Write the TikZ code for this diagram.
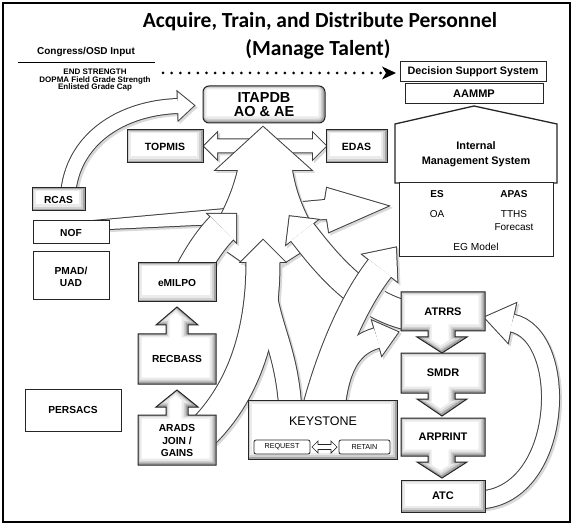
\documentclass[tikz,border=0pt]{standalone}
\usepackage{fontspec}
\setmainfont{Liberation Sans}
\newfontfamily\titlefont{Carlito}
\usetikzlibrary{calc,arrows.meta}
\newcommand\fsz[2]{\fontsize{#1}{#2}\selectfont}
\newcommand\mkhead[5]{%
  \coordinate (#1-t) at ($(#2)!-#4!(#3)$);
  \coordinate (#1-a) at ($(#2)!#5!90:(#1-t)$);
  \coordinate (#1-b) at ($(#2)!#5!-90:(#1-t)$);}
\newcommand\hp[1]{(#1-t) -- (#1-a) -- (#1-b) -- cycle}
\newcommand\bevbox[1]{%
  \fill[white] #1;
  \begin{scope}
    \clip #1;
    \draw[black!8, line width=10pt, shift={(-1.5,-1.5)}] #1;
    \draw[black!18, line width=6pt, shift={(-1.2,-1.2)}] #1;
    \draw[black!36, line width=3pt, shift={(-0.8,-0.8)}] #1;
  \end{scope}
  \draw[black!85, line width=1pt, line join=miter] #1;}
% shaft and polygon paths (pixel coordinates, y downwards)
\def\pRCAS{(68,195) .. controls (72,140) and (120,108) .. (178,106)}
\def\pARC{(480,500) .. controls (565,495) and (570,335) .. (512,323)}
\def\pNOF{(93,221) -- (325,200) -- (327,188) -- (388,206) -- (329,232) -- (327,219) -- (109,229) -- cycle}
\def\pDBL{(204,146) -- (217,133) -- (217,139.5) -- (313,139.5) -- (313,133) -- (326,146) -- (313,159) -- (313,152.5) -- (217,152.5) -- (217,159) -- cycle}
\def\pTrunk{(263,127) -- (311,170) -- (292,170) .. controls (296,195) and (305,215) .. (320,240) -- (279,266) -- (248,266) -- (208,238) .. controls (222,215) and (232,195) .. (238,170) -- (216,170) -- cycle}
\def\pSone{(190,275) .. controls (200,255) and (212,238) .. (222,228)}
\def\pStwo{(405,315) .. controls (355,302) and (320,255) .. (302,232)}
\def\pLegL{(203,432) .. controls (240,395) and (263,340) .. (263,262)}
\def\pLegR{(290,404) .. controls (285,340) and (263,320) .. (263,262)}
\def\pKone{(318,404) .. controls (333,350) and (355,300) .. (380,268)}
\def\pKtwo{(335,404) .. controls (340,365) and (352,345) .. (377,338)}
\tikzset{
  ol/.style={draw=black!75, line join=miter},
  shd/.style={draw=black!15, fill=black!15, line join=miter},
  sh/.style={transform canvas={xshift=2pt,yshift=-2pt}},
  plain/.style={draw=black!85, line width=1pt, fill=white},
  lb/.style={font=\bfseries\fsz{10.5}{12}, align=center, inner sep=0pt},
  lbs/.style={font=\bfseries\fsz{10.2}{12.5}, align=center, inner sep=0pt},
  lr/.style={font=\fsz{10}{12}, align=center, inner sep=0pt},
}
\begin{document}
\begin{tikzpicture}[x=1pt,y=-1pt]
\useasboundingbox (0,0) rectangle (581,529);
\fill[white] (0,0) rectangle (581,529);
\mkhead{hr}{178,106}{120,108}{16pt}{14pt}
\mkhead{ha}{512,323}{570,335}{28pt}{20pt}
\mkhead{ho}{222,228}{212,238}{20pt}{20pt}
\mkhead{ht}{302,232}{320,255}{20pt}{20pt}
\mkhead{hl}{263,262}{263,300}{22pt}{22pt}
\mkhead{ka}{380,268}{355,300}{26pt}{22pt}
\mkhead{kb}{377,338}{352,345}{22pt}{18pt}
% ---------- group 1: back arrows
\begin{scope}[sh]
  \draw[draw=black!15, line width=16pt] \pRCAS;
  \draw[draw=black!15, line width=19pt] \pARC;
  \filldraw[shd, line width=2pt] \hp{hr};
  \filldraw[shd, line width=2pt] \hp{ha};
  \filldraw[shd, line width=2pt] \pNOF;
  \filldraw[shd, line width=2pt] \pDBL;
\end{scope}
\draw[ol, line width=16pt] \pRCAS;
\draw[ol, line width=19pt] \pARC;
\draw[ol, line width=2pt] \hp{hr};
\draw[ol, line width=2pt] \hp{ha};
\draw[ol, line width=2pt] \pNOF;
\draw[ol, line width=2pt] \pDBL;
\draw[white, line width=14pt] \pRCAS;
\draw[white, line width=17pt] \pARC;
\fill[white] \hp{hr};
\fill[white] \hp{ha};
\fill[white] \pNOF;
\fill[white] \pDBL;
% ---------- group 2a: trunk
\filldraw[shd, line width=2pt, sh] \pTrunk;
\draw[ol, line width=2pt] \pTrunk;
\fill[white] \pTrunk;
% ---------- group 2b: side bands into trunk
\begin{scope}[sh]
  \draw[draw=black!15, line width=34pt] \pSone;
  \draw[draw=black!15, line width=30pt] \pStwo;
  \filldraw[shd, line width=2pt] \hp{ho};
  \filldraw[shd, line width=2pt] \hp{ht};
\end{scope}
\draw[ol, line width=34pt] \pSone;
\draw[ol, line width=30pt] \pStwo;
\draw[ol, line width=2pt] \hp{ho};
\draw[ol, line width=2pt] \hp{ht};
\draw[white, line width=32pt] \pSone;
\draw[white, line width=28pt] \pStwo;
\fill[white] \hp{ho};
\fill[white] \hp{ht};
% ---------- group 2c: legs
\begin{scope}[sh]
  \draw[draw=black!15, line width=35pt] \pLegL;
  \draw[draw=black!15, line width=24pt] \pLegR;
  \filldraw[shd, line width=2pt] \hp{hl};
\end{scope}
\draw[ol, line width=35pt] \pLegL;
\draw[ol, line width=24pt] \pLegR;
\draw[ol, line width=2pt] \hp{hl};
\draw[white, line width=33pt] \pLegL;
\draw[white, line width=22pt] \pLegR;
\fill[white] \hp{hl};
% ---------- group 3: keystone arrows
\begin{scope}[sh]
  \draw[draw=black!15, line width=30pt] \pKone;
  \draw[draw=black!15, line width=22pt] \pKtwo;
  \filldraw[shd, line width=2pt] \hp{ka};
  \filldraw[shd, line width=2pt] \hp{kb};
\end{scope}
\draw[ol, line width=30pt] \pKone;
\draw[ol, line width=22pt] \pKtwo;
\draw[ol, line width=2pt] \hp{ka};
\draw[ol, line width=2pt] \hp{kb};
\draw[white, line width=28pt] \pKone;
\draw[white, line width=20pt] \pKtwo;
\fill[white] \hp{ka};
\fill[white] \hp{kb};
% ---------- title
\node[font=\titlefont\bfseries\fsz{21.5}{24}] (title1) at (320,22) {Acquire, Train, and Distribute Personnel};
\node[font=\titlefont\bfseries\fsz{21.5}{24}] (title2) at (318,49) {(Manage Talent)};
% ---------- congress input
\node[font=\bfseries\fsz{10}{12}, inner sep=0pt] (cong) at (86,52) {Congress/OSD Input};
\coordinate (rl) at (18,62);
\coordinate (rr) at (155,62);
\draw[line width=0.8pt] (rl) -- (rr);
\node[font=\bfseries\fsz{8}{7.5}, align=center, inner sep=0pt] (caps) at (95,80.5) {END STRENGTH\\DOPMA Field Grade Strength\\Enlisted Grade Cap};
% ---------- decision support
\node[plain, minimum width=146pt, minimum height=20pt, font=\bfseries\fsz{10.8}{12}, inner sep=0pt] (dss) at (473,72) {Decision Support System};
\node[plain, minimum width=138pt, minimum height=20pt, font=\bfseries\fsz{11}{12}, inner sep=0pt] (aammp) at (474,94) {AAMMP};
\coordinate (dotA) at (163,73);
\coordinate (dotB) at (383,73);
\draw[line width=3pt, line cap=round, dash pattern=on 0pt off 8.7pt] (dotA) -- (dotB);
\fill (382,66.5) -- (396,73) -- (382,79.5) -- (386,73) -- cycle;
% ---------- internal management system
\draw[plain, line width=1.3pt, line join=miter] (395,183) -- (395,124) -- (474,106) -- (557,124) -- (557,183) -- cycle;
\node[font=\bfseries\fsz{10.9}{14.5}, align=center] (ims) at (476,154) {Internal\\Management System};
\draw[plain] (399,183) rectangle (553,257);
\node[font=\bfseries\fsz{10}{12}, inner sep=0pt] (es) at (437,194) {ES};
\node[font=\bfseries\fsz{10}{12}, inner sep=0pt] (apas) at (514,194) {APAS};
\node[lr] (oa) at (437,214) {OA};
\node[lr, font=\fsz{10}{12.5}] (tths) at (514,220.5) {TTHS\\Forecast};
\node[lr, font=\fsz{10.2}{12}] (eg) at (476,247) {EG Model};
% ---------- ITAPDB, TOPMIS, EDAS
\bevbox{[rounded corners=6pt] (203,86) rectangle (325,123)}
\node[lb, font=\bfseries\fsz{14.5}{14}] (itapdb) at (264,104.5) {ITAPDB\\AO \& AE};
\bevbox{(127,130) rectangle (203,163)}
\node[lb] (topmis) at (165,146.5) {TOPMIS};
\bevbox{(326,130) rectangle (387,163)}
\node[lb] (edas) at (356.5,146.5) {EDAS};
% ---------- left column
\bevbox{(32,188) rectangle (85,211)}
\node[lbs] (rcas) at (58.5,199.5) {RCAS};
\draw[plain] (33,221) rectangle (109,244);
\node[lbs] (nof) at (71,232.5) {NOF};
\draw[plain] (33,252) rectangle (109,300);
\node[lbs] (pmad) at (71,277) {PMAD/\\UAD};
\draw[plain] (25,389) rectangle (121,431);
\node[lbs] (persacs) at (73,410) {PERSACS};
\bevbox{(138,263) rectangle (216,302)}
\node[lbs] (emilpo) at (177,283) {eMILPO};
\bevbox{(138,384) -- (138,334) -- (166,334) -- (166,325) -- (156,325) -- (177,307) -- (198,325) -- (188,325) -- (188,334) -- (216,334) -- (216,384) -- cycle}
\node[lbs] (recbass) at (177,359) {RECBASS};
\bevbox{(138,465) -- (138,415) -- (166,415) -- (166,407) -- (156,407) -- (177,390) -- (198,407) -- (188,407) -- (188,415) -- (216,415) -- (216,465) -- cycle}
\node[lbs] (arads) at (177,440.5) {ARADS\\JOIN /\\GAINS};
% ---------- keystone
\bevbox{(248,400) rectangle (397,459)}
\node[font=\fsz{12.5}{14}] (keystone) at (323,421) {KEYSTONE};
\draw[black!85, line width=0.8pt, fill=white, rounded corners=2pt] (254,440) rectangle (310,454);
\draw[black!85, line width=0.8pt, fill=white, rounded corners=2pt] (339,440) rectangle (390,454);
\node[font=\fsz{7.2}{8}] (request) at (282,447) {REQUEST};
\node[font=\fsz{7.2}{8}] (retain) at (364.5,447) {RETAIN};
\draw[black!85, line width=0.7pt, fill=white, line join=miter] (312,447) -- (318,441) -- (318,444.5) -- (331,444.5) -- (331,441) -- (337,447) -- (331,453) -- (331,449.5) -- (318,449.5) -- (318,453) -- cycle;
% ---------- right column
\bevbox{(401,292) -- (485,292) -- (485,331) -- (455,331) -- (455,337) -- (467,337) -- (442,353) -- (417,337) -- (428,337) -- (428,331) -- (401,331) -- cycle}
\node[lb, font=\bfseries\fsz{11}{12}] (atrrs) at (443,311.5) {ATRRS};
\bevbox{(401,353) -- (485,353) -- (485,393) -- (455,393) -- (455,399) -- (467,399) -- (442,416) -- (417,399) -- (428,399) -- (428,393) -- (401,393) -- cycle}
\node[lb, font=\bfseries\fsz{11}{12}] (smdr) at (443,373) {SMDR};
\bevbox{(401,418) -- (485,418) -- (485,456) -- (455,456) -- (455,462) -- (467,462) -- (442,478) -- (417,462) -- (428,462) -- (428,456) -- (401,456) -- cycle}
\node[lb, font=\bfseries\fsz{11}{12}] (arprint) at (443,437) {ARPRINT};
\bevbox{(401,480) rectangle (485,512)}
\node[lb, font=\bfseries\fsz{11}{12}] (atc) at (443,496) {ATC};
% ---------- frame
\draw[line width=1.2pt] (3,3) rectangle (570,522);
\end{tikzpicture}
\end{document}
